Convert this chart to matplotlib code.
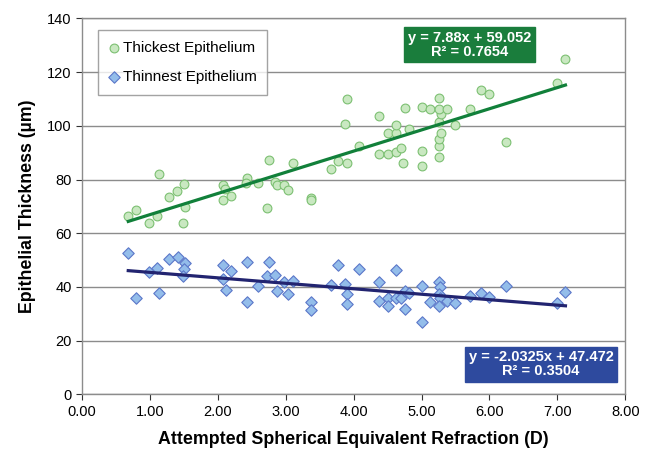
import numpy as np
import matplotlib
matplotlib.use('Agg')
import matplotlib.pyplot as plt

plt.rcParams['font.family'] = ['Liberation Sans', 'DejaVu Sans']

# thickest epithelium (green circles)
thick_x = [0.68, 0.79, 0.99, 1.10, 1.13, 1.28, 1.40, 1.50, 1.51, 1.48,
           2.07, 2.10, 2.07, 2.19, 2.43, 2.42, 2.59, 2.73, 2.75, 2.84,
           2.87, 2.98, 3.04, 3.10, 3.37, 3.37, 3.66, 3.77, 3.90, 3.88,
           3.90, 4.08, 4.38, 4.38, 4.50, 4.50, 4.62, 4.63, 4.62, 4.70,
           4.73, 4.75, 4.82, 5.00, 5.00, 5.00, 5.12, 5.25, 5.25, 5.25,
           5.28, 5.25, 5.28, 5.25, 5.25, 5.38, 5.50, 5.72, 5.88, 6.00,
           6.25, 7.00, 7.12]
thick_y = [66.6, 68.7, 64.0, 66.5, 82.0, 73.6, 75.9, 78.4, 69.7, 63.9,
           77.8, 76.5, 72.2, 73.8, 80.5, 78.7, 78.8, 69.3, 87.3, 78.9,
           78.1, 77.8, 76.0, 86.1, 73.3, 72.3, 84.1, 87.0, 86.3, 100.6,
           109.8, 92.3, 103.7, 89.5, 89.5, 97.2, 97.3, 100.4, 90.1, 91.7,
           86.2, 106.5, 98.8, 85.0, 90.7, 106.9, 106.2, 88.2, 92.6, 95.2,
           97.3, 101.4, 104.4, 106.3, 110.4, 106.3, 100.3, 106.3, 113.4, 111.8,
           94.0, 115.9, 124.8]

# thinnest epithelium (blue diamonds)
thin_x = [0.68, 0.79, 0.99, 1.10, 1.13, 1.28, 1.41, 1.51, 1.50, 1.48,
          2.07, 2.19, 2.07, 2.12, 2.43, 2.43, 2.59, 2.76, 2.73, 2.84,
          2.87, 2.98, 3.10, 3.04, 3.37, 3.37, 3.66, 3.77, 3.88, 3.90,
          3.90, 4.08, 4.38, 4.38, 4.50, 4.50, 4.62, 4.62, 4.70, 4.75,
          4.75, 4.82, 5.00, 5.00, 5.12, 5.25, 5.27, 5.25, 5.27, 5.25,
          5.38, 5.50, 5.72, 5.88, 6.00, 6.25, 7.00, 7.12]
thin_y = [52.8, 35.9, 45.4, 47.1, 37.9, 50.3, 51.1, 49.0, 46.6, 44.1,
          48.2, 46.0, 43.0, 38.9, 49.3, 34.3, 40.5, 49.3, 44.1, 44.6,
          38.5, 41.9, 42.4, 37.4, 34.4, 31.6, 40.8, 48.2, 41.3, 37.3,
          33.8, 46.7, 42.0, 34.7, 35.8, 33.0, 46.3, 35.8, 35.8, 38.4,
          31.8, 37.9, 40.2, 27.0, 34.3, 41.9, 39.9, 37.5, 35.8, 33.0,
          34.8, 34.0, 36.5, 37.7, 36.1, 40.4, 34.1, 38.1]

# fitted trend lines as printed on the chart
thick_fit = (7.88, 59.052, 0.7654)
thin_fit = (-2.0325, 47.472, 0.3504)

fig = plt.figure(figsize=(6.52, 4.54), dpi=100)
ax = fig.add_axes([0.1259, 0.1311, 0.8330, 0.8286])

ax.scatter(thick_x, thick_y, s=40, marker='o', facecolor='#c9e8c1',
           edgecolor='#7cc072', linewidth=0.8, zorder=3, label='Thickest Epithelium')
ax.scatter(thin_x, thin_y, s=34, marker='D', facecolor='#93bdea',
           edgecolor='#5b77c9', linewidth=0.8, zorder=3, label='Thinnest Epithelium')

xs = np.array([min(thick_x), max(thick_x)])
ax.plot(xs, thick_fit[0] * xs + thick_fit[1], color='#11803a', lw=2.3, zorder=4)
xs = np.array([min(thin_x), max(thin_x)])
ax.plot(xs, thin_fit[0] * xs + thin_fit[1], color='#222470', lw=2.3, zorder=4)

ax.set_xlim(0, 8)
ax.set_ylim(0, 140)
ax.set_xticks(np.arange(0, 8.01, 1))
ax.set_xticklabels(['%.2f' % v for v in np.arange(0, 8.01, 1)])
ax.set_yticks(np.arange(0, 141, 20))
ax.tick_params(labelsize=10.5, colors='#333333', length=4, width=0.8, labelcolor='black')
ax.yaxis.grid(True, color='#8c8c8c', lw=1.0)
ax.set_axisbelow(True)
for sp in ax.spines.values():
    sp.set_color('#8c8c8c')
    sp.set_linewidth(1.0)

ax.set_xlabel('Attempted Spherical Equivalent Refraction (D)', fontsize=12.8,
              fontweight='bold', labelpad=9)
ax.set_ylabel('Epithelial Thickness (µm)', fontsize=12.8, fontweight='bold', labelpad=8)

leg = ax.legend(loc='upper left', bbox_to_anchor=(0.03, 0.969), borderaxespad=0,
                fontsize=11, frameon=True, fancybox=False, handlelength=0.6,
                handletextpad=0.3, labelspacing=1.0, borderpad=0.7)
leg.get_frame().set_edgecolor('#8c8c8c')
leg.get_frame().set_linewidth(1.0)

ax.text(5.71, 130.2, 'y = %.2fx + %.3f\nR² = %.4f' % thick_fit, ha='center', va='center',
        fontsize=10.5, fontweight='bold', color='white', linespacing=1.0,
        bbox=dict(boxstyle='square,pad=0.25', fc='#1a7d3c', ec='#1a7d3c'), zorder=5)
ax.text(6.76, 11.2, 'y = %.4fx + %.3f\nR² = %.4f' % thin_fit, ha='center', va='center',
        fontsize=10.5, fontweight='bold', color='white', linespacing=1.0,
        bbox=dict(boxstyle='square,pad=0.25', fc='#2e4a9e', ec='#2e4a9e'), zorder=5)

fig.savefig('out.png', dpi=100)
